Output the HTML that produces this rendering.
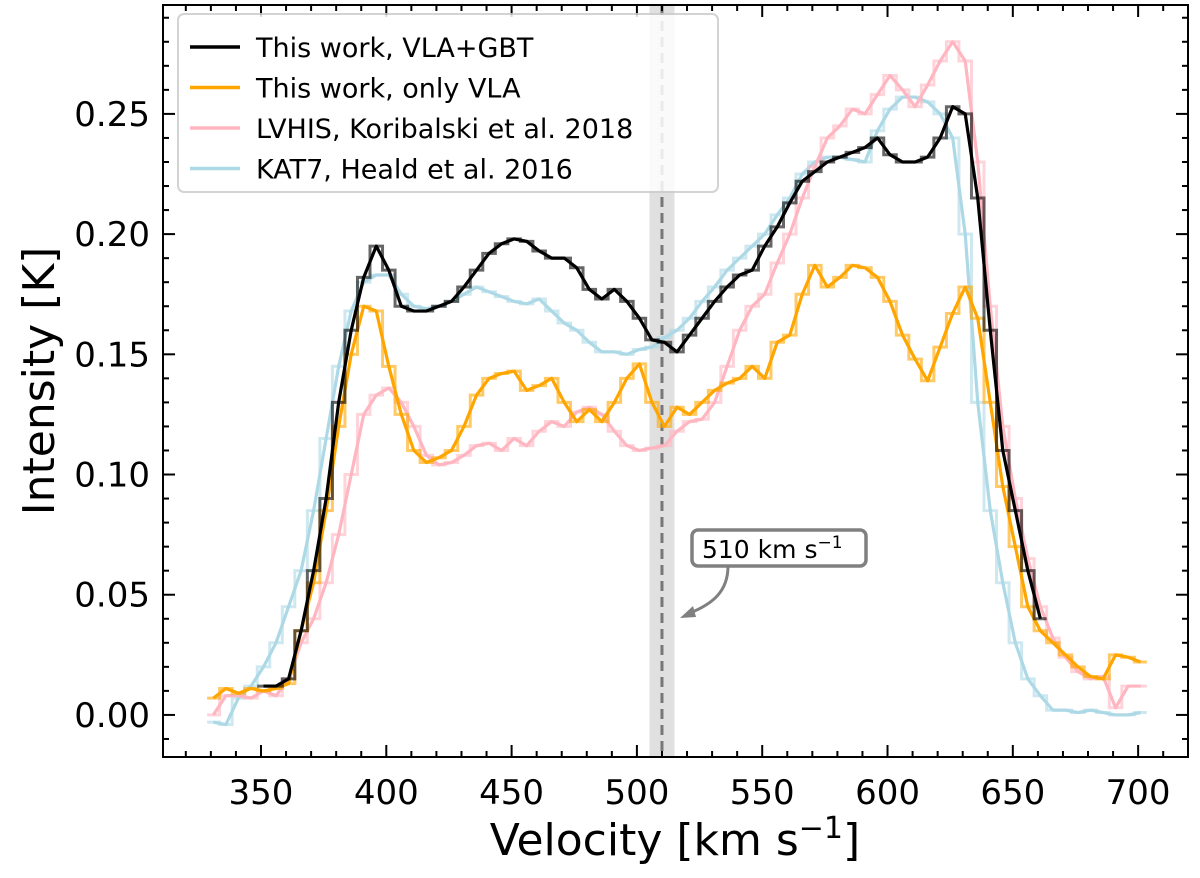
<!DOCTYPE html>
<html><head><meta charset="utf-8"><style>
body{margin:0;background:#fff}
svg text{font-family:"DejaVu Sans","Liberation Sans",sans-serif}
</style></head><body>
<svg id="c" width="1200" height="873" xmlns="http://www.w3.org/2000/svg"></svg>
<script>
const vel=[];for(let v=331;v<=701;v+=5)vel.push(v);
const velBlack=[];for(let v=351;v<=661;v+=5)velBlack.push(v);
const seriesBlack=[0.012,0.012,0.015,0.035,0.06,0.09,0.13,0.16,0.182,0.195,0.185,0.17,0.168,0.168,0.17,0.172,0.178,0.185,0.192,0.196,0.198,0.197,0.193,0.19,0.19,0.186,0.177,0.173,0.177,0.172,0.165,0.156,0.155,0.151,0.158,0.165,0.172,0.178,0.183,0.185,0.195,0.203,0.213,0.222,0.226,0.23,0.232,0.234,0.236,0.24,0.233,0.23,0.23,0.232,0.24,0.253,0.25,0.215,0.16,0.11,0.085,0.06,0.04];
const seriesOrange=[0.007,0.011,0.009,0.011,0.010,0.011,0.013,0.035,0.055,0.085,0.12,0.15,0.17,0.168,0.145,0.125,0.11,0.105,0.107,0.11,0.12,0.133,0.14,0.142,0.143,0.135,0.137,0.14,0.13,0.122,0.127,0.122,0.13,0.14,0.146,0.13,0.12,0.128,0.125,0.13,0.135,0.138,0.14,0.145,0.14,0.155,0.158,0.175,0.187,0.178,0.182,0.187,0.186,0.182,0.172,0.158,0.148,0.139,0.153,0.167,0.178,0.165,0.13,0.095,0.07,0.045,0.035,0.03,0.025,0.02,0.016,0.015,0.025,0.024,0.022];
const seriesPink=[0.0,0.008,0.008,0.007,0.01,0.008,0.015,0.03,0.04,0.055,0.075,0.1,0.125,0.133,0.136,0.13,0.12,0.108,0.104,0.105,0.108,0.112,0.113,0.11,0.115,0.112,0.118,0.122,0.12,0.126,0.128,0.125,0.118,0.112,0.11,0.111,0.112,0.118,0.122,0.123,0.13,0.145,0.16,0.17,0.175,0.188,0.2,0.215,0.228,0.24,0.245,0.252,0.25,0.258,0.266,0.26,0.253,0.262,0.272,0.28,0.272,0.23,0.17,0.12,0.09,0.065,0.045,0.032,0.024,0.018,0.015,0.016,0.003,0.012,0.012];
const seriesBlue=[-0.003,-0.004,0.007,0.012,0.02,0.03,0.045,0.06,0.085,0.115,0.145,0.168,0.18,0.183,0.183,0.175,0.17,0.169,0.17,0.172,0.175,0.178,0.176,0.174,0.172,0.171,0.173,0.168,0.163,0.16,0.155,0.151,0.151,0.15,0.152,0.153,0.157,0.16,0.165,0.172,0.178,0.185,0.19,0.195,0.2,0.208,0.215,0.225,0.23,0.232,0.232,0.231,0.23,0.243,0.252,0.257,0.257,0.255,0.25,0.24,0.2,0.13,0.085,0.055,0.03,0.015,0.008,0.002,0.002,0.001,0.002,0.001,0.0,0.0,0.001];
const xTicks=[350,400,450,500,550,600,650,700];
const yTicks=[0.00,0.05,0.10,0.15,0.20,0.25];
const yTickLabels=["0.00","0.05","0.10","0.15","0.20","0.25"];

const L=163,R=1188,T=5,B=757,xmin=310.9,xmax=719.9,ymin=-0.0175,ymax=0.2953;
const X=v=>L+(v-xmin)/(xmax-xmin)*(R-L);
const Y=v=>B-(v-ymin)/(ymax-ymin)*(B-T);
const svg=document.getElementById('c');const NS="http://www.w3.org/2000/svg";
function mk(t,a,p){const e=document.createElementNS(NS,t);for(const k in a)e.setAttribute(k,a[k]);(p||svg).appendChild(e);return e;}
const cp=mk('clipPath',{id:'cp'});mk('rect',{x:L,y:T,width:R-L,height:B-T},cp);
let g=mk('g',{'clip-path':'url(#cp)'});
let band=mk('rect',{x:X(505),y:T,width:X(515)-X(505),height:B-T,fill:'#ddd',opacity:0.9},g);


let dl=mk('line',{x1:X(510),x2:X(510),y1:T,y2:B,stroke:'#777','stroke-width':3,'stroke-dasharray':'10,6'},g);


function draw(xs,ys,col,name){
  let d='';const h=2.5;
  xs.forEach((x,i)=>{const a=X(x-h),b=X(x+h),y=Y(ys[i]);d+=(i?'L':'M')+a+','+y+'L'+b+','+y;});
  let s=mk('path',{d:d,fill:'none',stroke:col,'stroke-width':3,opacity:0.6},g);
  
  
  let d2=xs.map((x,i)=>(i?'L':'M')+X(x)+','+Y(ys[i])).join('');
  let l=mk('path',{d:d2,fill:'none',stroke:col,'stroke-width':3.2,'stroke-linejoin':'round'},g);
  
  
}
draw(vel,seriesBlue,'#add8e6','kat7');
draw(vel,seriesPink,'#ffb6c1','lvhis');
draw(vel,seriesOrange,'#ffa500','vla-only');
draw(velBlack,seriesBlack,'#000','vla-gbt');
let fr=mk('rect',{x:L,y:T,width:R-L,height:B-T,fill:'none',stroke:'#000','stroke-width':2});


for(let v=320;v<=710;v+=10){const x=X(v),maj=v%50===0,len=maj?12:6;
 mk('line',{x1:x,x2:x,y1:B,y2:B-len,stroke:'#000','stroke-width':2});mk('line',{x1:x,x2:x,y1:T,y2:T+len,stroke:'#000','stroke-width':2});}
for(let k=-1;k<=29;k++){const v=k/100,y=Y(v);if(y<T||y>B)continue;const maj=k%5===0,len=maj?12:6;
 mk('line',{x1:L,x2:L+len,y1:y,y2:y,stroke:'#000','stroke-width':2});mk('line',{x1:R,x2:R-len,y1:y,y2:y,stroke:'#000','stroke-width':2});}
xTicks.forEach(v=>{let t=mk('text',{x:X(v),y:B+47,'font-size':34,'text-anchor':'middle'});t.textContent=v;
 
 });
yTicks.forEach((v,i)=>{let t=mk('text',{x:L-13,y:Y(v)+12,'font-size':34,'text-anchor':'end'});t.textContent=yTickLabels[i];
 
 });
let xl=mk('text',{x:675,y:855,'font-size':44,'text-anchor':'middle'});xl.innerHTML='Velocity [km s<tspan dy="-17" font-size="30">−1</tspan><tspan dy="17">]</tspan>';


let yl=mk('text',{x:0,y:0,'font-size':44,'text-anchor':'middle',transform:'translate(54,381) rotate(-90)'});yl.textContent='Intensity [K]';


let lg=mk('g',{});


mk('rect',{x:178,y:14,width:540,height:178,rx:6,fill:'#fff',opacity:0.85,stroke:'#ccc','stroke-width':2},lg);
[['This work, VLA+GBT','#000'],['This work, only VLA','#ffa500'],['LVHIS, Koribalski et al. 2018','#ffb6c1'],['KAT7, Heald et al. 2016','#add8e6']].forEach((e,i)=>{
 const y=47+i*40.5;let it=mk('g',{},lg);
 
 
 mk('line',{x1:190,x2:240,y1:y,y2:y,stroke:e[1],'stroke-width':3.5},it);
 let t=mk('text',{x:256,y:y+10,'font-size':27},it);t.textContent=e[0];});
let an=mk('g',{});


mk('path',{d:'M728,566 C728,592 712,604 690,613',fill:'none',stroke:'#808080','stroke-width':3},an);
mk('path',{d:'M680,618 L693,606 L696,617 Z',fill:'#808080'},an);
mk('rect',{x:692,y:530,width:174,height:36,rx:6,fill:'#fff',stroke:'#808080','stroke-width':3.5},an);
let at=mk('text',{x:702,y:558,'font-size':25},an);at.innerHTML='510 km s<tspan dy="-10" font-size="17">−1</tspan>';
</script>
</body></html>
